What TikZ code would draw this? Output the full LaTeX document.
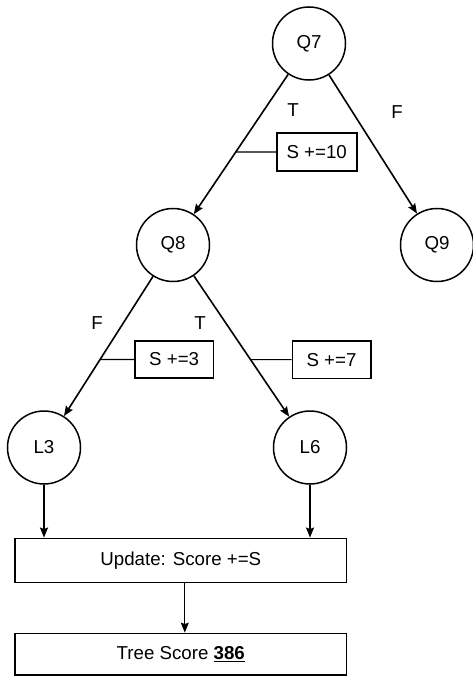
\documentclass[tikz,border=0pt]{standalone}
\usepackage{fontspec}
\setmainfont{Liberation Sans}
\usetikzlibrary{arrows.meta,intersections}
\begin{document}
\begin{tikzpicture}[x=1pt,y=-1pt,
  every node/.style={font=\fontsize{18.7}{21}\selectfont},
  circ/.style={circle,draw,line width=1.5pt,minimum size=73pt,inner sep=0pt},
  sbox/.style={draw,line width=1.6pt,minimum width=#1,minimum height=37.5pt,inner sep=0pt},
  wbox/.style={draw,line width=1.5pt,minimum width=331.7pt,inner sep=0pt},
  arr/.style={line width=1.6pt,-{Stealth[length=10pt,width=8pt,inset=1.5pt]}},
  annot/.style={line width=1.1pt},
  lbl/.style={inner sep=0pt}]
\useasboundingbox (0,0) rectangle (473,680);
\node[circ] (Q7) at (309,43.5) {Q7};
\node[circ] (Q8) at (173,245) {Q8};
\node[circ] (Q9) at (437,245) {Q9};
\node[circ] (L3) at (44,447.5) {L3};
\node[circ] (L6) at (310,447.5) {L6};
\node[sbox=80pt] (S10) at (316.7,152) {S +=10};
\node[sbox=78.3pt] (S3) at (174.2,359.5) {S +=3};
\node[sbox=78.4pt] (S7) at (331.5,359.6) {S +=7};
\node[wbox,minimum height=44.4pt] (Upd) at (180.8,560.5) {Update: Score +=S};
\node[wbox,minimum height=41.7pt] (Tree) at (180.8,654.2) {Tree Score \underline{\textbf{386}}};
\node[lbl] (T1) at (293,110) {T};
\node[lbl] (F1) at (397,112) {F};
\node[lbl] (F2) at (97,323) {F};
\node[lbl] (T2) at (200,323) {T};
\draw[arr,name path=e1] (Q7) -- (Q8);
\draw[arr] (Q7) -- (Q9);
\draw[arr,name path=e2] (Q8) -- (L3);
\draw[arr,name path=e3] (Q8) -- (L6);
\path[name path=h1] (S10.west) -- ++(-150,0);
\path[name path=h2] (S3.west) -- ++(-150,0);
\path[name path=h3] (S7.west) -- ++(-150,0);
\path[name intersections={of=e1 and h1,by=i1}];
\path[name intersections={of=e2 and h2,by=i2}];
\path[name intersections={of=e3 and h3,by=i3}];
\draw[annot] (S10.west) -- (i1);
\draw[annot] (S3.west) -- (i2);
\draw[annot] (S7.west) -- (i3);
\draw[arr] (L3.south) -- (L3.south |- Upd.north);
\draw[arr] (L6.south) -- (L6.south |- Upd.north);
\draw[arr,line width=1.1pt] ([xshift=4pt]Upd.south) -- ([xshift=4pt]Tree.north);
\end{tikzpicture}
\end{document}
